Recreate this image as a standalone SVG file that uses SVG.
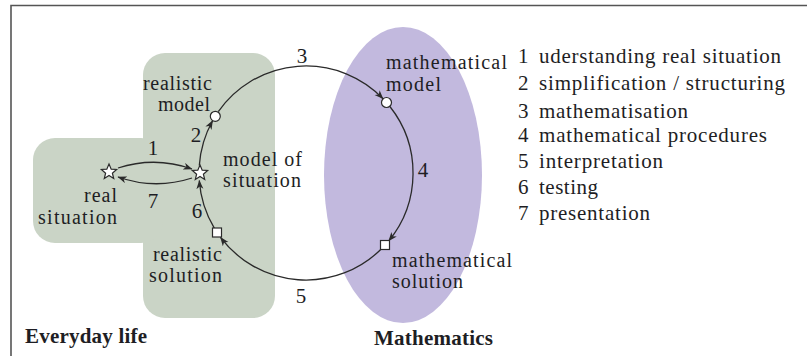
<svg xmlns="http://www.w3.org/2000/svg" width="807" height="356" viewBox="0 0 807 356">
<style>
  text { font-family: "Liberation Serif", "Times New Roman", serif; font-size: 21px; fill: #1e1e24; }
  .l { font-size: 20px; }
  .b { font-weight: bold; }
  .e { text-anchor: end; }
  .m { text-anchor: middle; }
  .c { fill: none; stroke: #2a2a2a; stroke-width: 1.3; }
  .nd { fill: #ffffff; stroke: #2a2a2a; stroke-width: 1.2; }
</style>
<defs>
  <marker id="ah" markerUnits="userSpaceOnUse" markerWidth="10" markerHeight="8" refX="8.5" refY="3.5" orient="auto">
    <path d="M0,0 L9,3.5 L0,7 L2.5,3.5 z" fill="#2a2a2a"/>
  </marker>
  <polygon id="star" points="0,-8 2.2,-2.8 7.6,-2.5 3.4,1.2 4.7,6.5 0,3.5 -4.7,6.5 -3.4,1.2 -7.6,-2.5 -2.2,-2.8"/>
</defs>
<rect width="807" height="356" fill="#ffffff"/>
<g id="frame">
  <path d="M11,356 L11,5.5 L807,5.5" fill="none" stroke="#555555" stroke-width="1.6"/>
</g>
<g id="everyday-life-region">
  <rect x="143" y="53" width="132" height="265" rx="22" fill="#cad4c6"/>
  <rect x="33" y="138" width="130" height="105" rx="22" fill="#cad4c6"/>
</g>
<g id="mathematics-region">
  <ellipse cx="403" cy="175" rx="79" ry="148" fill="#c2b9de"/>
</g>
<g id="connectors">
  <path class="c" d="M199.3,165.5 A107,107 0 0 1 212.6,120.8" marker-end="url(#ah)"/>
  <path class="c" d="M218.3,111.6 A107,107 0 0 1 383.0,98.7" marker-end="url(#ah)"/>
  <path class="c" d="M389.9,106.5 A107,107 0 0 1 388.7,240.9" marker-end="url(#ah)"/>
  <path class="c" d="M381.0,249.3 A107,107 0 0 1 220.5,237.4" marker-end="url(#ah)"/>
  <path class="c" d="M214.3,228.1 A107,107 0 0 1 199.3,180.5" marker-end="url(#ah)"/>
  <path class="c" d="M118,168 Q155,156 192,169" marker-end="url(#ah)"/>
  <path class="c" d="M192,178 Q155,190 118,177" marker-end="url(#ah)"/>
  <text class="m" x="153" y="155">1</text>
  <text class="m" x="196" y="142">2</text>
  <text class="m" x="302" y="63">3</text>
  <text class="m" x="423" y="177">4</text>
  <text class="m" x="301" y="303">5</text>
  <text class="m" x="197" y="218">6</text>
  <text class="m" x="153" y="208">7</text>
</g>
<g id="real-situation">
  <use href="#star" x="109" y="172" class="nd"/>
  <text class="l" x="84" y="202" textLength="33" lengthAdjust="spacing">real</text>
  <text class="l" x="38" y="224" textLength="79" lengthAdjust="spacing">situation</text>
</g>
<g id="model-of-situation">
  <use href="#star" x="200" y="173" class="nd"/>
  <text class="l" x="223" y="166" textLength="79" lengthAdjust="spacing">model of</text>
  <text class="l" x="223" y="187" textLength="78" lengthAdjust="spacing">situation</text>
</g>
<g id="realistic-model">
  <circle cx="215.3" cy="116.3" r="5" class="nd"/>
  <text class="l" x="143" y="90" textLength="69" lengthAdjust="spacing">realistic</text>
  <text class="l" x="158" y="111" textLength="52" lengthAdjust="spacing">model</text>
</g>
<g id="mathematical-model">
  <circle cx="386.5" cy="102.5" r="5" class="nd"/>
  <text class="l" x="386" y="69" textLength="121" lengthAdjust="spacing">mathematical</text>
  <text class="l" x="386" y="91" textLength="55" lengthAdjust="spacing">model</text>
</g>
<g id="mathematical-solution">
  <rect x="380.5" y="240.5" width="9" height="9" class="nd"/>
  <text class="l" x="392" y="267" textLength="120" lengthAdjust="spacing">mathematical</text>
  <text class="l" x="392" y="288" textLength="71" lengthAdjust="spacing">solution</text>
</g>
<g id="realistic-solution">
  <rect x="212.5" y="228" width="9" height="9" class="nd"/>
  <text class="l" x="153" y="261" textLength="69" lengthAdjust="spacing">realistic</text>
  <text class="l" x="149" y="282" textLength="73" lengthAdjust="spacing">solution</text>
</g>
<g id="legend">
  <text x="518" y="63">1</text>
  <text x="539" y="63" textLength="242" lengthAdjust="spacing">uderstanding real situation</text>
  <text x="518" y="90">2</text>
  <text x="539" y="90" textLength="246" lengthAdjust="spacing">simplification / structuring</text>
  <text x="518" y="118">3</text>
  <text x="539" y="118" textLength="149" lengthAdjust="spacing">mathematisation</text>
  <text x="518" y="142">4</text>
  <text x="539" y="142" textLength="228" lengthAdjust="spacing">mathematical procedures</text>
  <text x="518" y="168">5</text>
  <text x="539" y="168" textLength="124" lengthAdjust="spacing">interpretation</text>
  <text x="518" y="194">6</text>
  <text x="539" y="194" textLength="59" lengthAdjust="spacing">testing</text>
  <text x="518" y="220">7</text>
  <text x="539" y="220" textLength="111" lengthAdjust="spacing">presentation</text>
</g>
<g id="region-labels">
  <text class="b" x="25" y="343" textLength="122" lengthAdjust="spacing">Everyday life</text>
  <text class="b" x="374" y="345" textLength="119" lengthAdjust="spacing">Mathematics</text>
</g>
</svg>
